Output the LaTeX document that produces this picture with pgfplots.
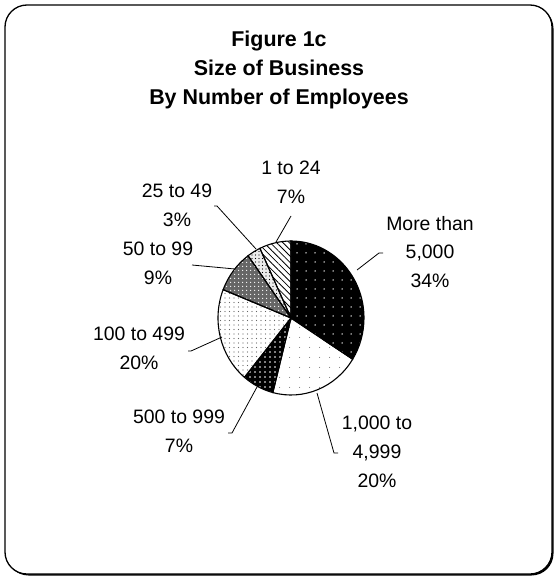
\documentclass[border=0pt]{standalone}
\usepackage{pgfplots}
\pgfplotsset{compat=1.18}
\usepackage{pgfplotstable}
\usepackage{fontspec}
\setmainfont{Liberation Sans}
\usetikzlibrary{patterns.meta}

% share of businesses (percent), clockwise from 12 o'clock
\pgfplotstableread{
share
34
20
7
20
9
3
7
}\piedata

\newcommand\slice[2]{%
  \fill[#2] (axis cs:291,318) -- ++(\csname sa#1\endcsname:73bp and 77bp)
    arc[start angle=\csname sa#1\endcsname, end angle=\csname ea#1\endcsname, x radius=73bp, y radius=77bp] -- cycle;}
\newcommand\sliceline[1]{%
  \draw[line width=1.1bp] (axis cs:291,318) -- ++(\csname sa#1\endcsname:73bp and 77bp)
    arc[start angle=\csname sa#1\endcsname, end angle=\csname ea#1\endcsname, x radius=73bp, y radius=77bp] -- cycle;}

\begin{document}
\begin{tikzpicture}
\def\cum{0}
\pgfplotsforeachungrouped \i in {0,...,6}{%
  \pgfplotstablegetelem{\i}{share}\of\piedata
  \pgfmathsetmacro\s{90-3.6*\cum}%
  \pgfmathsetmacro\cum{\cum+\pgfplotsretval}%
  \pgfmathsetmacro\e{90-3.6*\cum}%
  \expandafter\xdef\csname sa\i\endcsname{\s}%
  \expandafter\xdef\csname ea\i\endcsname{\e}%
}
\begin{axis}[width=556bp,height=577bp,scale only axis,
  xmin=0,xmax=556,ymin=0,ymax=577,y dir=reverse,hide axis,clip=false]
\path (axis cs:0,0) (axis cs:556,577);
% frame with shadow
\fill[black, rounded corners=22bp] (axis cs:6.5,6.5) rectangle (axis cs:553.5,575.5);
\draw[fill=white, line width=1.3bp, rounded corners=22bp] (axis cs:5,5) rectangle (axis cs:552,574);
% title
\node[font=\bfseries\fontsize{21.5}{29.5}\selectfont, align=center] at (axis cs:279,70)
  {Figure 1c\\Size of Business\\By Number of Employees};
% slices
\slice{0}{black}
\slice{0}{pattern={Dots[distance=9bp,radius=0.75bp]}, pattern color=white}
\slice{1}{white}
\slice{1}{pattern={Dots[distance=10bp,radius=0.6bp]}, pattern color=gray}
\slice{2}{black}
\slice{2}{pattern={Dots[distance=5bp,radius=0.8bp]}, pattern color=white}
\slice{3}{white}
\slice{3}{pattern={Dots[distance=4.5bp,radius=0.6bp]}, pattern color=gray!80!black}
\slice{4}{black!60}
\slice{4}{pattern={Dots[distance=3.6bp,radius=0.7bp]}, pattern color=white}
\slice{5}{gray!15}
\slice{5}{pattern={Dots[distance=3.5bp,radius=0.65bp]}, pattern color=black}
\slice{6}{white}
\slice{6}{pattern={Lines[angle=-45,distance=4.5bp,line width=0.8bp]}, pattern color=black}
\sliceline{0}\sliceline{1}\sliceline{2}\sliceline{3}\sliceline{4}\sliceline{5}\sliceline{6}
% leader lines
\draw[line width=0.8bp] (axis cs:291,216) -- (axis cs:276,242);
\draw[line width=0.8bp] (axis cs:214,206) -- (axis cs:217,206) -- (axis cs:256,249);
\draw[line width=0.8bp] (axis cs:192,265) -- (axis cs:235,269);
\draw[line width=0.8bp] (axis cs:357,270) -- (axis cs:379,253) -- (axis cs:383,253);
\draw[line width=0.8bp] (axis cs:188,351) -- (axis cs:191,351) -- (axis cs:222,337);
\draw[line width=0.8bp] (axis cs:228,433) -- (axis cs:232,433) -- (axis cs:257,387);
\draw[line width=0.8bp] (axis cs:317,393) -- (axis cs:334,453) -- (axis cs:338,453);
% labels
\begin{scope}[every node/.style={font=\fontsize{19.5}{29}\selectfont, align=center}]
\node at (axis cs:291,182.5) {1 to 24\\7\%};
\node at (axis cs:177,205.5) {25 to 49\\3\%};
\node at (axis cs:158,263) {50 to 99\\9\%};
\node at (axis cs:430,252) {More than\\5,000\\34\%};
\node at (axis cs:139,348) {100 to 499\\20\%};
\node at (axis cs:179,431) {500 to 999\\7\%};
\node at (axis cs:377,452) {1,000 to\\4,999\\20\%};
\end{scope}
\end{axis}
\end{tikzpicture}
\end{document}
